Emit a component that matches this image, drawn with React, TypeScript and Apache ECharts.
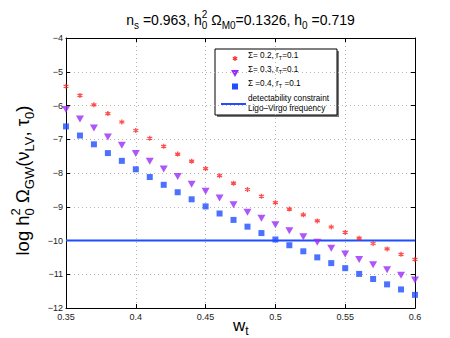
import React, { useEffect, useRef } from "react";
import * as echarts from "echarts";

const wt = [0.35, 0.36, 0.37, 0.38, 0.39, 0.4, 0.41, 0.42, 0.43, 0.44, 0.45, 0.46, 0.47, 0.48, 0.49, 0.5, 0.51, 0.52, 0.53, 0.54, 0.55, 0.56, 0.57, 0.58, 0.59, 0.6];
const sigma02 = [-5.43, -5.70, -5.98, -6.24, -6.49, -6.74, -6.97, -7.21, -7.44, -7.65, -7.87, -8.08, -8.30, -8.49, -8.69, -8.88, -9.07, -9.24, -9.42, -9.60, -9.76, -9.93, -10.09, -10.25, -10.41, -10.56];
const sigma03 = [-6.12, -6.40, -6.67, -6.93, -7.18, -7.42, -7.65, -7.88, -8.10, -8.33, -8.54, -8.74, -8.94, -9.16, -9.34, -9.53, -9.71, -9.89, -10.05, -10.23, -10.40, -10.56, -10.72, -10.87, -11.03, -11.17];
const sigma04 = [-6.62, -6.89, -7.15, -7.41, -7.64, -7.89, -8.12, -8.35, -8.57, -8.78, -8.99, -9.20, -9.39, -9.59, -9.78, -9.97, -10.14, -10.32, -10.50, -10.67, -10.82, -10.99, -11.14, -11.30, -11.45, -11.61];
const limitX = [0.35, 0.6];
const limitY = [-10, -10];
const seriesNames = ["Σ= 0.2, r_T=0.1", "Σ= 0.3, r_T=0.1", "Σ =0.4, r_T =0.1", "detectability constraint Ligo–Virgo frequency"];

const FONT = '"Liberation Sans", Arial, Helvetica, sans-serif';
const RED = "#ff2020";
const PURPLE = "#9a2cf5";
const BLUE = "#1f4dff";
const ASTERISK = "path://M5,0L5,10M0.67,2.5L9.33,7.5M0.67,7.5L9.33,2.5";

type Seg = { t: string; k: "n" | "sub" | "sup" | "stack"; t2?: string };

let ctx: CanvasRenderingContext2D | null = null;
function measure(text: string, size: number): number {
  if (!ctx) ctx = document.createElement("canvas").getContext("2d");
  if (!ctx) return text.length * size * 0.55;
  ctx.font = `${size}px ${FONT}`;
  return ctx.measureText(text).width;
}

function layout(segs: Seg[], base: number, color = "#000") {
  const small = Math.round(base * 0.7 * 2) / 2;
  const children: any[] = [];
  let x = 0;
  const mk = (t: string, size: number, px: number, py: number) => ({
    type: "text",
    x: px,
    y: py,
    style: { text: t, fontSize: size, fontFamily: FONT, fill: color, align: "left", verticalAlign: "middle" },
  });
  for (const s of segs) {
    if (s.k === "n") {
      children.push(mk(s.t, base, x, 0));
      x += measure(s.t, base);
    } else if (s.k === "sub") {
      children.push(mk(s.t, small, x, base * 0.36));
      x += measure(s.t, small);
    } else if (s.k === "sup") {
      children.push(mk(s.t, small, x, -base * 0.4));
      x += measure(s.t, small);
    } else {
      children.push(mk(s.t, small, x, -base * 0.4));
      children.push(mk(s.t2 || "", small, x, base * 0.36));
      x += Math.max(measure(s.t, small), measure(s.t2 || "", small));
    }
  }
  return { children, width: x };
}

export default function App() {
  const ref = useRef<HTMLDivElement>(null);
  useEffect(() => {
    if (!ref.current) return;
    const chart = echarts.init(ref.current, null, { renderer: "svg" });

    const title = layout(
      [
        { t: "n", k: "n" }, { t: "s", k: "sub" }, { t: " =0.963, h", k: "n" },
        { t: "2", k: "stack", t2: "0" }, { t: " Ω", k: "n" }, { t: "M0", k: "sub" },
        { t: "=0.1326, h", k: "n" }, { t: "0", k: "sub" }, { t: " =0.719", k: "n" },
      ],
      14
    );
    const ylab = layout(
      [
        { t: "log h", k: "n" }, { t: "2", k: "stack", t2: "0" }, { t: " Ω", k: "n" },
        { t: "GW", k: "sub" }, { t: "(ν", k: "n" }, { t: "LV", k: "sub" },
        { t: ", τ", k: "n" }, { t: "0", k: "sub" }, { t: ")", k: "n" },
      ],
      18.5
    );
    const LF = 8.2;
    const leg1 = layout([{ t: "Σ= 0.2, r", k: "n" }, { t: "T", k: "sub" }, { t: "=0.1", k: "n" }], LF);
    const leg2 = layout([{ t: "Σ= 0.3, r", k: "n" }, { t: "T", k: "sub" }, { t: "=0.1", k: "n" }], LF);
    const leg3 = layout([{ t: "Σ =0.4, r", k: "n" }, { t: "T", k: "sub" }, { t: " =0.1", k: "n" }], LF);

    const lx = 207, ly = 41, lw = 122, lh = 66;
    const mx = 227;
    const txt = (t: string, x: number, y: number) => ({
      type: "text", x, y,
      style: { text: t, fontSize: LF, fontFamily: FONT, fill: "#000", align: "left", verticalAlign: "middle" },
    });

    const axisCommon = {
      type: "value" as const,
      axisLine: { show: true, onZero: false, lineStyle: { color: "#000", width: 1 } },
      axisTick: { show: true, inside: true, length: 4, lineStyle: { color: "#000" } },
    };

    chart.setOption({
      animation: false,
      grid: { left: 58, right: 43, top: 30, bottom: 38, containLabel: false },
      xAxis: [
        {
          ...axisCommon,
          min: 0.35, max: 0.6, interval: 0.05,
          axisLabel: {
            color: "#222", fontSize: 9, fontFamily: FONT, margin: 4,
            formatter: (v: number) => String(parseFloat(v.toFixed(2))),
          },
          splitLine: { show: true, lineStyle: { color: "#b5b5b5", type: [1, 3], width: 1 } },
        },
        {
          ...axisCommon, position: "top",
          min: 0.35, max: 0.6, interval: 0.05,
          axisLabel: { show: false }, splitLine: { show: false },
        },
      ],
      yAxis: [
        {
          ...axisCommon,
          min: -12, max: -4, interval: 1,
          axisLabel: {
            color: "#222", fontSize: 9, fontFamily: FONT, margin: 3,
            formatter: (v: number) => String(v).replace("-", "−"),
          },
          splitLine: { show: true, lineStyle: { color: "#b5b5b5", type: [1, 3], width: 1 } },
        },
        {
          ...axisCommon, position: "right",
          min: -12, max: -4, interval: 1,
          axisLabel: { show: false }, splitLine: { show: false },
        },
      ],
      series: [
        {
          name: seriesNames[3], type: "line", data: limitX.map((x, i) => [x, limitY[i]]),
          showSymbol: false, symbol: "none", lineStyle: { color: BLUE, width: 2 }, z: 1,
        },
        {
          name: seriesNames[0], type: "scatter", data: wt.map((x, i) => [x, sigma02[i]]),
          symbol: ASTERISK, symbolSize: 5,
          itemStyle: { color: "rgba(0,0,0,0)", borderColor: RED, borderWidth: 1.3 }, z: 3,
        },
        {
          name: seriesNames[1], type: "scatter", data: wt.map((x, i) => [x, sigma03[i]]),
          symbol: "triangle", symbolRotate: 180, symbolSize: [8, 7],
          itemStyle: { color: PURPLE }, z: 3,
        },
        {
          name: seriesNames[2], type: "scatter", data: wt.map((x, i) => [x, sigma04[i]]),
          symbol: "rect", symbolSize: 6, itemStyle: { color: BLUE }, z: 3,
        },
      ],
      graphic: [
        { type: "group", x: 232.5 - title.width / 2, y: 12, children: title.children },
        { type: "group", x: 14.5, y: 172.5 + ylab.width / 2, rotation: Math.PI / 2, children: ylab.children },
        {
          type: "group", x: 225, y: 317,
          children: [
            { type: "text", x: 0, y: 0, style: { text: "w", fontSize: 17, fontFamily: FONT, fill: "#000", verticalAlign: "middle" } },
            { type: "text", x: measure("w", 17), y: 6, style: { text: "t", fontSize: 12, fontFamily: FONT, fill: "#000", verticalAlign: "middle" } },
          ],
        },
        {
          type: "group", x: 0, y: 0, z: 100,
          children: [
            { type: "rect", shape: { x: lx + 2, y: ly + 2, width: lw, height: lh }, style: { fill: "#777" } },
            { type: "rect", shape: { x: lx, y: ly, width: lw, height: lh }, style: { fill: "#fff", stroke: "#000", lineWidth: 1 } },
            { type: "line", shape: { x1: mx, y1: 48, x2: mx, y2: 53 }, style: { stroke: RED, lineWidth: 1.2 } },
            { type: "line", shape: { x1: mx - 2.2, y1: 49.2, x2: mx + 2.2, y2: 51.8 }, style: { stroke: RED, lineWidth: 1.2 } },
            { type: "line", shape: { x1: mx - 2.2, y1: 51.8, x2: mx + 2.2, y2: 49.2 }, style: { stroke: RED, lineWidth: 1.2 } },
            { type: "polygon", shape: { points: [[mx - 4, 62], [mx + 4, 62], [mx, 69]] }, style: { fill: PURPLE } },
            { type: "rect", shape: { x: mx - 3, y: 75.5, width: 6, height: 6 }, style: { fill: BLUE } },
            { type: "line", shape: { x1: 213, y1: 96, x2: 238, y2: 96 }, style: { stroke: BLUE, lineWidth: 2 } },
            { type: "group", x: 240, y: 47, children: leg1.children },
            { type: "group", x: 240, y: 61, children: leg2.children },
            { type: "group", x: 240, y: 75, children: leg3.children },
            txt("detectability constraint", 240, 90),
            txt("Ligo–Virgo frequency", 240, 100.5),
          ],
        },
      ],
    });
    return () => chart.dispose();
  }, []);
  return <div ref={ref} style={{ width: 450, height: 338 }} />;
}
